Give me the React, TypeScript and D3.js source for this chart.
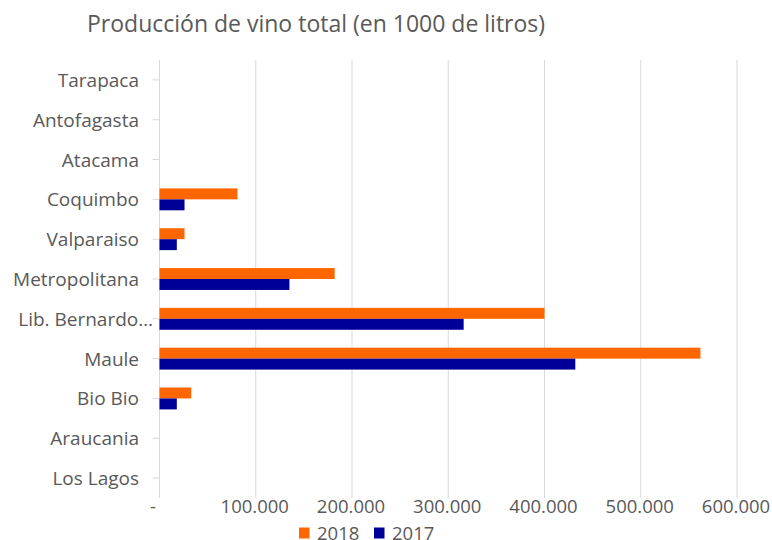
import React from "react";
import * as d3 from "d3";

const regions = [
  "Tarapaca",
  "Antofagasta",
  "Atacama",
  "Coquimbo",
  "Valparaiso",
  "Metropolitana",
  "Lib. Bernardo…",
  "Maule",
  "Bio Bio",
  "Araucania",
  "Los Lagos",
];
const series = ["2018", "2017"];
const values2018 = [0, 0, 0, 81000, 26000, 182000, 400000, 562000, 33000, 0, 0];
const values2017 = [0, 0, 0, 26000, 18000, 135000, 316000, 432000, 18000, 0, 0];
const xTicks = [0, 100000, 200000, 300000, 400000, 500000, 600000];
const colors = ["#FF6600", "#000099"];

const W = 772;
const H = 540;
const FONT = "'Open Sans', Lato, sans-serif";
const TEXT = "#595959";
const GRID = "#d9d9d9";

// Accounting-style number labels: dot as thousands separator, dash for zero.
const locale = d3.formatLocale({ decimal: ",", thousands: ".", grouping: [3], currency: ["$", ""] });
const fmtThousands = locale.format(",");
const tickLabel = (v: number) => (v === 0 ? "-" : fmtThousands(v));

export default function App() {
  const x = d3.scaleLinear().domain([0, 600000]).range([159.5, 737]);
  const y = d3.scaleBand<string>().domain(regions).range([60, 498]);
  const groupH = y.bandwidth() * 0.55;
  const inner = d3.scaleBand<string>().domain(series).range([0, groupH]);
  const data = [values2018, values2017];

  return (
    <svg
      width={W}
      height={H}
      style={{ position: "fixed", left: 0, top: 0, background: "#fff" }}
      fontFamily={FONT}
    >
      <rect width={W} height={H} fill="#fff" />
      <text x={87} y={32} fontSize={23} fill={TEXT}>
        Producción de vino total (en 1000 de litros)
      </text>

      {xTicks.map((t) => (
        <line key={"g" + t} x1={x(t)} x2={x(t)} y1={60} y2={498} stroke={GRID} strokeWidth={1} />
      ))}

      {regions.map((r) => {
        const cy = (y(r) as number) + y.bandwidth() / 2;
        // truncated labels run right up to the tick mark
        const lx = r.endsWith("…") ? 153 : 139;
        return (
          <g key={r}>
            <line x1={x(0) - 7} x2={x(0)} y1={cy} y2={cy} stroke={GRID} />
            <text x={lx} y={cy + 7} textAnchor="end" fontSize={19} fill={TEXT}>
              {r}
            </text>
          </g>
        );
      })}
      <line x1={x(0)} x2={x(0)} y1={60} y2={498} stroke={GRID} />

      {series.map((s, si) =>
        regions.map((r, i) => {
          const v = data[si][i];
          if (!v) return null;
          const cy = (y(r) as number) + y.bandwidth() / 2;
          return (
            <rect
              key={s + r}
              x={x(0)}
              y={cy - groupH / 2 + (inner(s) as number)}
              width={x(v) - x(0)}
              height={inner.bandwidth()}
              fill={colors[si]}
            />
          );
        })
      )}

      {xTicks.map((t) => (
        <text key={"t" + t} x={t === 0 ? 153 : x(t) - 1} y={513} textAnchor="middle" fontSize={18.5} fill={TEXT}>
          {tickLabel(t)}
        </text>
      ))}

      {series.map((s, i) => (
        <g key={"l" + s} transform={`translate(${299 + i * 75},0)`}>
          <rect x={0} y={527.5} width={10.5} height={11} fill={colors[i]} />
          <text x={18} y={539.5} fontSize={18.5} fill={TEXT}>
            {s}
          </text>
        </g>
      ))}
    </svg>
  );
}
